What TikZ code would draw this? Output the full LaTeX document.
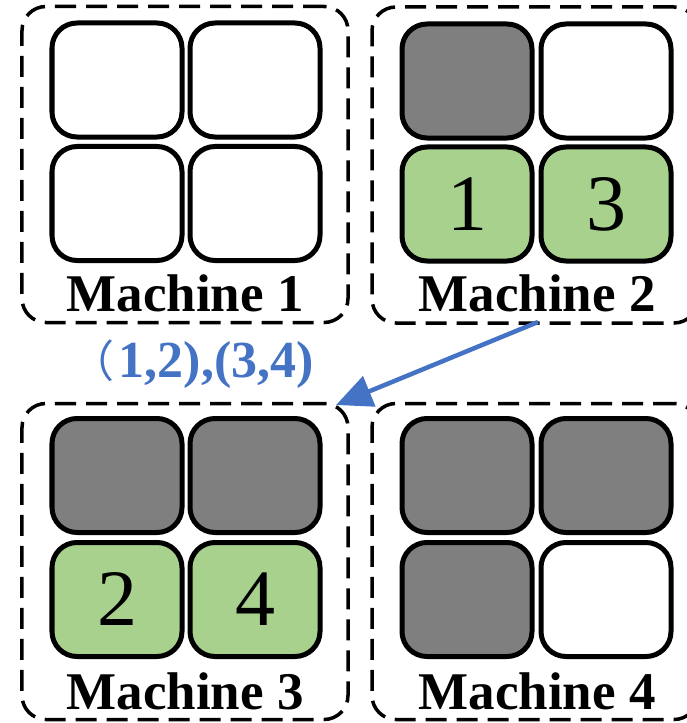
\documentclass[tikz,border=0pt]{standalone}
\usepackage{fontspec}
\setmainfont{Liberation Serif}
\newfontfamily\cjkfont{Noto Sans CJK SC}
\usetikzlibrary{arrows.meta}
\definecolor{cellgrey}{HTML}{7F7F7F}
\definecolor{cellgreen}{HTML}{A9D18E}
\definecolor{arrowblue}{HTML}{4472C4}
\tikzset{
  machinebox/.style={draw, line width=3.5bp, dash pattern=on 21bp off 10bp, rounded corners=24bp,
    minimum width=326bp, minimum height=316bp, inner sep=0pt},
  cell/.style={draw, line width=5bp, rounded corners=25bp, minimum width=130bp, minimum height=114bp,
    inner sep=0pt, font=\fontsize{80bp}{90bp}\selectfont},
  freecell/.style={cell, fill=white},
  usedcell/.style={cell, fill=cellgrey},
  taskcell/.style={cell, fill=cellgreen},
  mlabel/.style={inner sep=0pt, font=\fontsize{53bp}{60bp}\selectfont\bfseries},
  flowlabel/.style={inner sep=0pt, text=arrowblue, font=\fontsize{52bp}{58bp}\selectfont\bfseries},
  flow/.style={draw=arrowblue, line width=4.5bp, -{Triangle[length=36bp,width=32bp]}}
}
\begin{document}
\begin{tikzpicture}[x=1bp,y=-1bp]
\useasboundingbox (0,0) rectangle (687,723);
\clip (0,0) rectangle (687,723);
\fill[white] (0,0) rectangle (687,723);
% machine frames
\node[machinebox] (m1) at (185,164.5) {};
\node[machinebox] (m2) at (535,165) {};
\node[machinebox] (m3) at (185,561.5) {};
\node[machinebox] (m4) at (535,561.5) {};
% machine 1
\node[freecell] (c11) at (117,80) {};
\node[freecell] (c12) at (255,80) {};
\node[freecell] (c13) at (117,203.5) {};
\node[freecell] (c14) at (255,203.5) {};
\node[mlabel] (l1) at (185,293) {Machine 1};
% machine 2
\node[usedcell] (c21) at (467,81) {};
\node[freecell] (c22) at (606,81) {};
\node[taskcell] (c23) at (467,204) {1};
\node[taskcell] (c24) at (606,204) {3};
\node[mlabel] (l2) at (537,293) {Machine 2};
% machine 3
\node[usedcell] (c31) at (117,475.5) {};
\node[usedcell] (c32) at (255,475.5) {};
\node[taskcell] (c33) at (117,599.5) {2};
\node[taskcell] (c34) at (255,599.5) {4};
\node[mlabel] (l3) at (185,691) {Machine 3};
% machine 4
\node[usedcell] (c41) at (467,475.5) {};
\node[usedcell] (c42) at (606,475.5) {};
\node[usedcell] (c43) at (467,599.5) {};
\node[freecell] (c44) at (606,599.5) {};
\node[mlabel] (l4) at (537,691) {Machine 4};
% transfer
\coordinate (src) at (538,322);
\coordinate (dst) at (336,405);
\draw[flow] (src) -- (dst);
\node[flowlabel, anchor=east] (tl) at (314,364) {{\cjkfont\mdseries\fontsize{44bp}{50bp}\selectfont （}\kern4bp 1,2),(3,4)};
\end{tikzpicture}
\end{document}
